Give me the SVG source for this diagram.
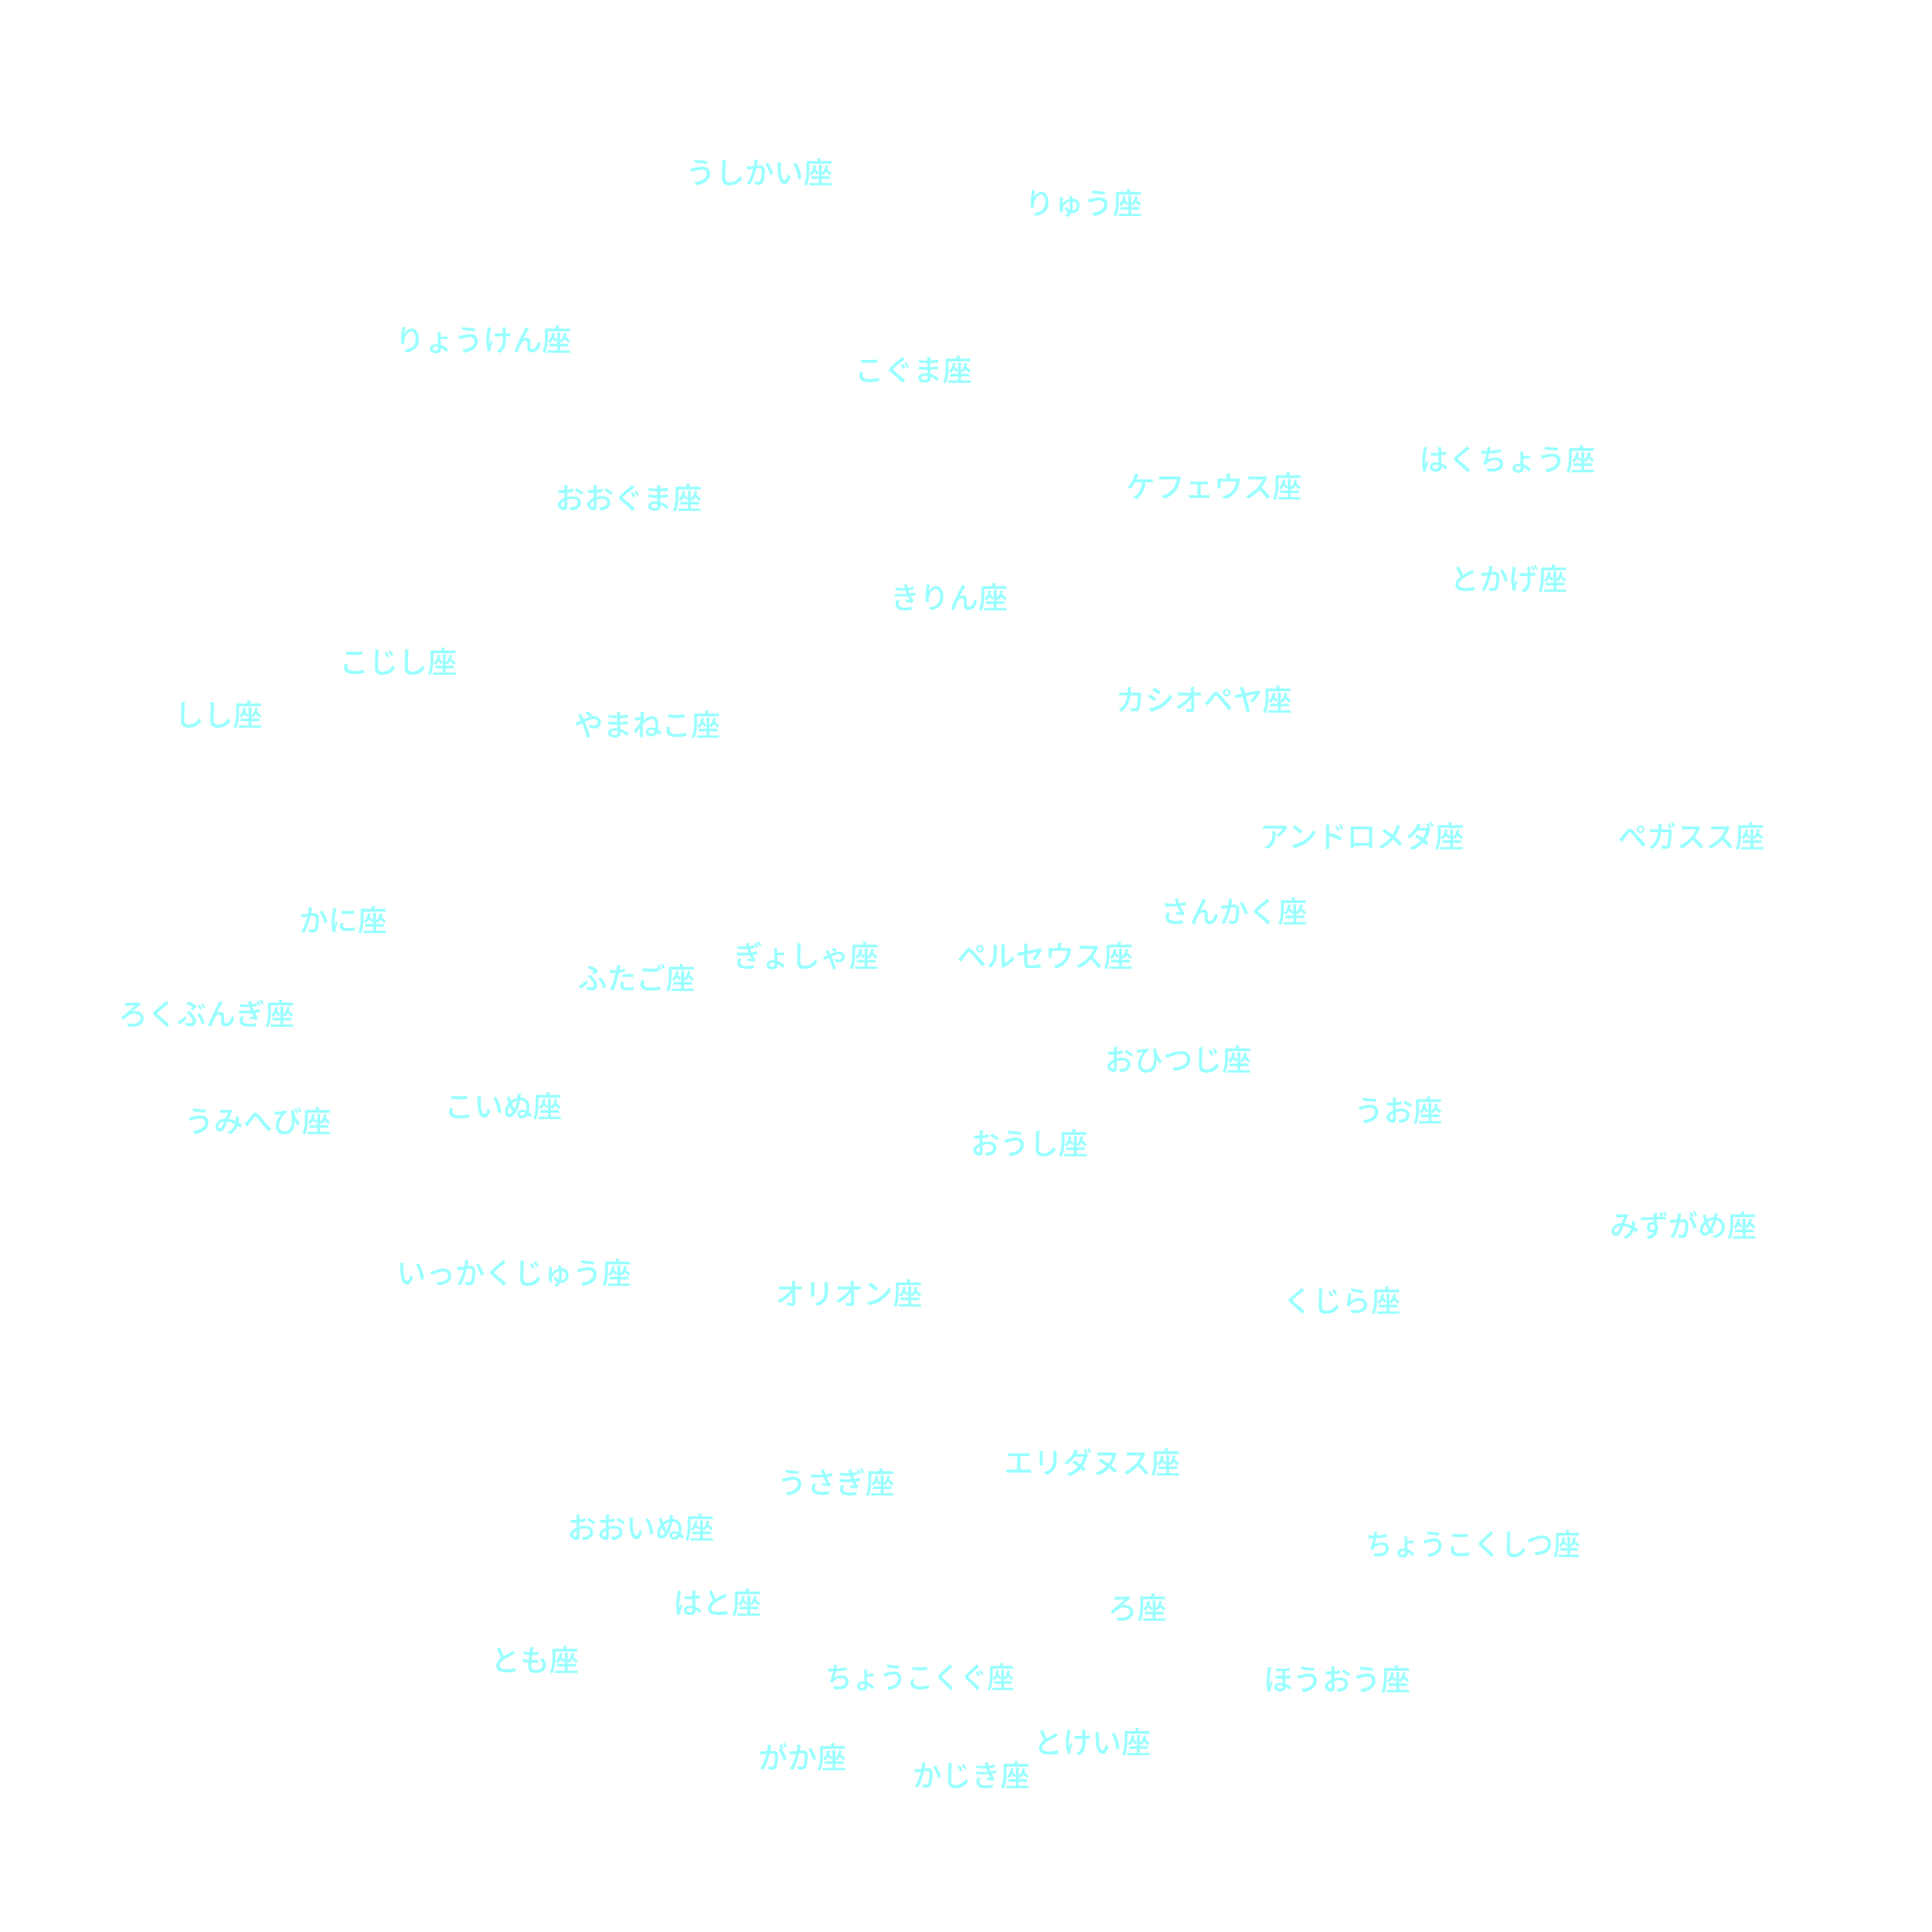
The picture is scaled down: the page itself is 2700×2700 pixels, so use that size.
<svg xmlns="http://www.w3.org/2000/svg" width="2700" height="2700" viewBox="0 0 2700 2700">
<style>
text{font-family:"Noto Sans CJK JP","Noto Sans CJK SC",sans-serif;font-size:41px;font-weight:500;fill:#99FFFF;text-anchor:middle}
</style>
<rect width="2700" height="2700" fill="#FFFFFF"/>
<g id="connectors"/>
<g id="n1"><text x="1061" y="256">うしかい座</text></g>
<g id="n2"><text x="1514" y="299">りゅう座</text></g>
<g id="n3"><text x="675" y="490">りょうけん座</text></g>
<g id="n4"><text x="1276" y="532">こぐま座</text></g>
<g id="n5"><text x="2106" y="657">はくちょう座</text></g>
<g id="n6"><text x="1696" y="695">ケフェウス座</text></g>
<g id="n7"><text x="878" y="711">おおぐま座</text></g>
<g id="n8"><text x="2108" y="824">とかげ座</text></g>
<g id="n9"><text x="1326" y="850">きりん座</text></g>
<g id="n10"><text x="556" y="940">こじし座</text></g>
<g id="n11"><text x="305" y="1014">しし座</text></g>
<g id="n12"><text x="904" y="1028">やまねこ座</text></g>
<g id="n13"><text x="1682" y="993">カシオペヤ座</text></g>
<g id="n14"><text x="1903" y="1184">アンドロメダ座</text></g>
<g id="n15"><text x="2363" y="1184">ペガスス座</text></g>
<g id="n16"><text x="1724" y="1289">さんかく座</text></g>
<g id="n17"><text x="479" y="1301">かに座</text></g>
<g id="n18"><text x="1126" y="1351">ぎょしゃ座</text></g>
<g id="n19"><text x="1460" y="1351">ペルセウス座</text></g>
<g id="n20"><text x="889" y="1382">ふたご座</text></g>
<g id="n21"><text x="288" y="1432">ろくぶんぎ座</text></g>
<g id="n22"><text x="1646" y="1496">おひつじ座</text></g>
<g id="n23"><text x="1954" y="1567">うお座</text></g>
<g id="n24"><text x="703" y="1561">こいぬ座</text></g>
<g id="n25"><text x="360" y="1582">うみへび座</text></g>
<g id="n26"><text x="1438" y="1613">おうし座</text></g>
<g id="n27"><text x="2352" y="1728">みずがめ座</text></g>
<g id="n28"><text x="718" y="1794">いっかくじゅう座</text></g>
<g id="n29"><text x="1186" y="1823">オリオン座</text></g>
<g id="n30"><text x="1875" y="1833">くじら座</text></g>
<g id="n31"><text x="1526" y="2059">エリダヌス座</text></g>
<g id="n32"><text x="1168" y="2087">うさぎ座</text></g>
<g id="n33"><text x="895" y="2150">おおいぬ座</text></g>
<g id="n34"><text x="2058" y="2173" textLength="300" lengthAdjust="spacingAndGlyphs">ちょうこくしつ座</text></g>
<g id="n35"><text x="1002" y="2255">はと座</text></g>
<g id="n36"><text x="1589" y="2262">ろ座</text></g>
<g id="n37"><text x="747" y="2335">とも座</text></g>
<g id="n38"><text x="1285" y="2359" textLength="264" lengthAdjust="spacingAndGlyphs">ちょうこくぐ座</text></g>
<g id="n39"><text x="1868" y="2362">ほうおう座</text></g>
<g id="n40"><text x="1526" y="2450">とけい座</text></g>
<g id="n41"><text x="1121" y="2471">がか座</text></g>
<g id="n42"><text x="1357" y="2496">かじき座</text></g>
</svg>
